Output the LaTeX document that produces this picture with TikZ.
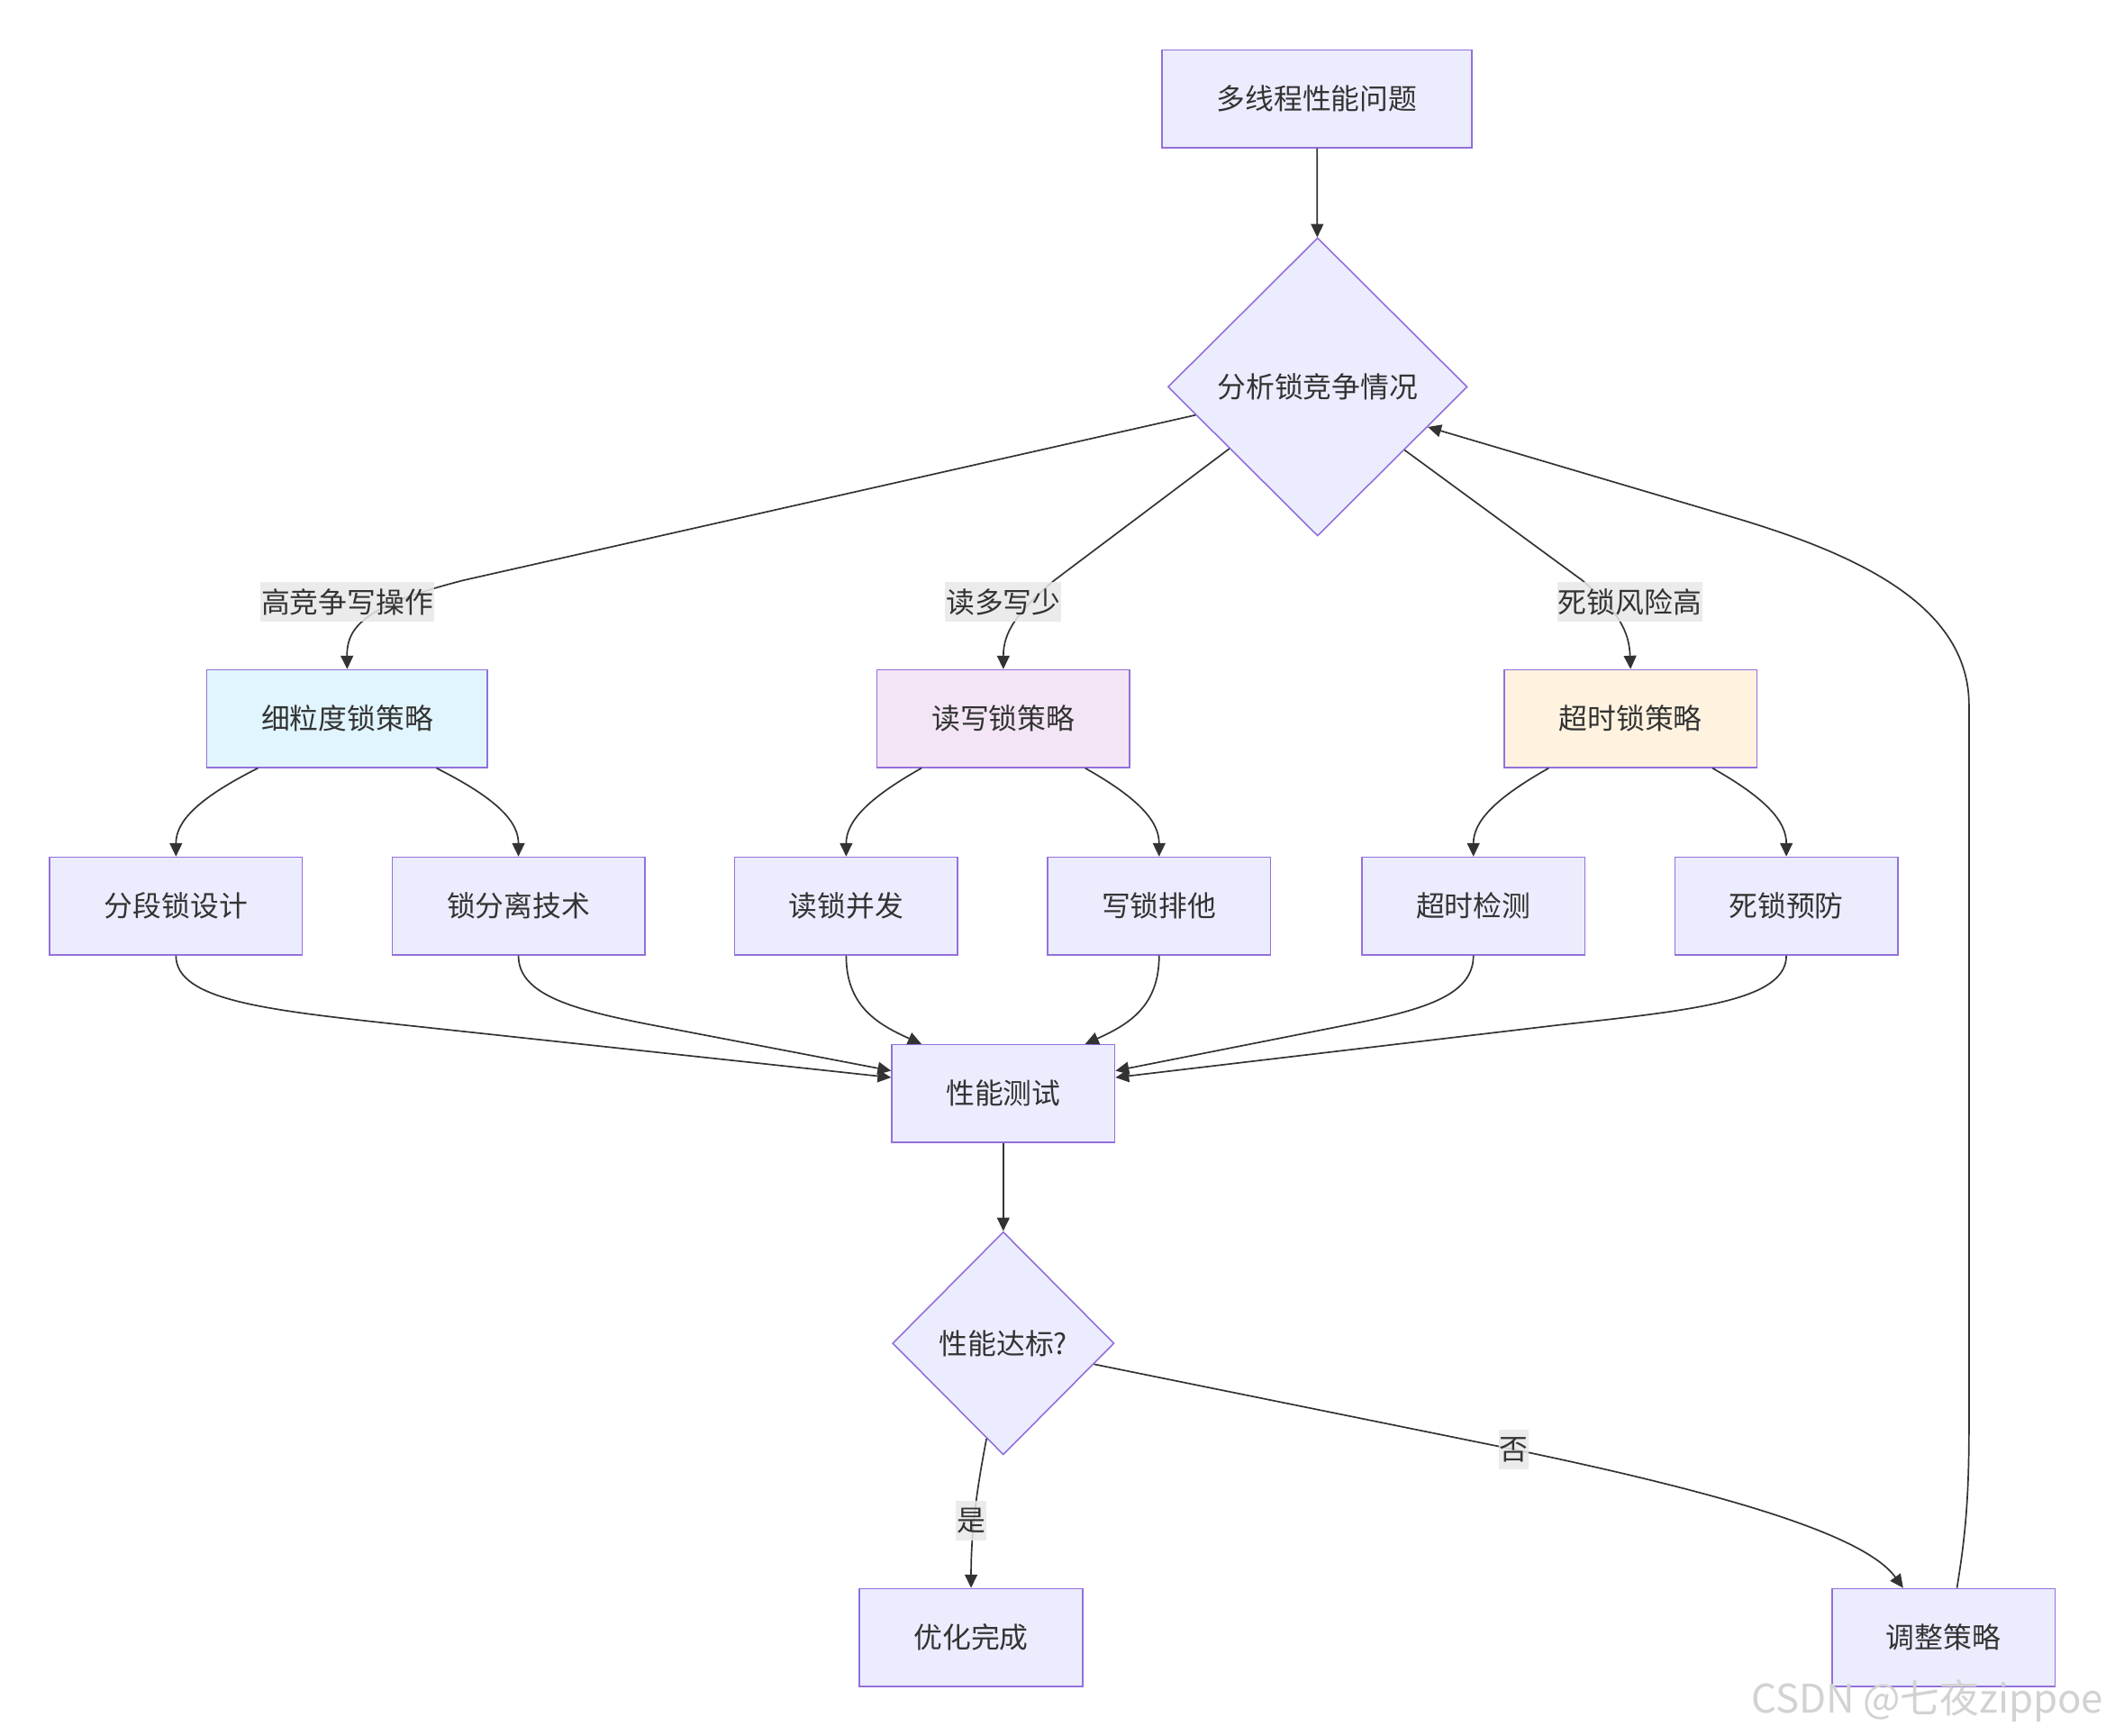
\documentclass[tikz,border=0pt]{standalone}
\usepackage{fontspec}
\setmainfont{Noto Sans CJK SC}
\usetikzlibrary{shapes.geometric,arrows.meta,calc}
\definecolor{nodefill}{HTML}{ECECFF}
\definecolor{nodeline}{HTML}{9370DB}
\definecolor{txt}{HTML}{333333}
\definecolor{lblbg}{HTML}{E8E8E8}
\definecolor{fblue}{HTML}{E1F5FE}
\definecolor{fpurple}{HTML}{F3E5F5}
\definecolor{forange}{HTML}{FFF3E0}
\definecolor{wm}{HTML}{D2D2D2}
\begin{document}
\begin{tikzpicture}[x=0.75pt,y=-0.75pt,
  font=\fontsize{16pt}{19pt}\selectfont,
  box/.style={draw=nodeline, fill=nodefill, line width=0.8pt, text=txt, minimum height=54.5pt, inner sep=0pt},
  dia/.style={diamond, draw=nodeline, fill=nodefill, line width=0.8pt, text=txt, inner sep=0pt},
  lbl/.style={fill=lblbg, fill opacity=0.85, text opacity=1, text=txt, inner xsep=0.5pt, inner ysep=0pt, minimum height=22.5pt},
  conn/.style={draw=txt, line width=0.85pt, -{Triangle[length=7.5pt,width=7pt]}}
]
\fill[white] (0,0) rectangle (1568,1292);
\useasboundingbox (0,0) rectangle (1568,1292);

% nodes
\node[box, minimum width=173.25pt] (A) at (980.5,73.5) {多线程性能问题};
\node[dia, minimum width=167.25pt, minimum height=166.5pt] (B) at (981,288) {分析锁竞争情况};
\node[box, fill=fblue, minimum width=156.75pt] (C) at (258.5,535) {细粒度锁策略};
\node[box, fill=fpurple, minimum width=141pt] (D) at (747,535) {读写锁策略};
\node[box, fill=forange, minimum width=141pt] (E) at (1214,535) {超时锁策略};
\node[box, minimum width=141pt] (C1) at (131,674.5) {分段锁设计};
\node[box, minimum width=141pt] (C2) at (386,674.5) {锁分离技术};
\node[box, minimum width=124.5pt] (D1) at (630,674.5) {读锁并发};
\node[box, minimum width=124.5pt] (D2) at (863,674.5) {写锁排他};
\node[box, minimum width=124.5pt] (E1) at (1097,674.5) {超时检测};
\node[box, minimum width=124.5pt] (E2) at (1330,674.5) {死锁预防};
\node[box, minimum width=124.5pt] (F) at (747,814) {性能测试};
\node[dia, minimum width=123.75pt, minimum height=124.5pt] (G) at (747,1000) {性能达标?};
\node[box, minimum width=124.5pt] (H) at (723,1219) {优化完成};
\node[box, minimum width=124.5pt] (I) at (1447,1219) {调整策略};

% edges
\draw[conn] (A) -- (B);
\draw[conn] (B.193) -- (345,432) .. controls (275,450) and (258,465) .. (C.north);
\draw[conn] (B.215.5) -- (785,432) .. controls (758,455) and (747,470) .. (D.north);
\draw[conn] (B.324.5) -- (1178,432) .. controls (1205,455) and (1213,470) .. (E.north);

\draw[conn] ($(C.south)+(-66.5,0)$) .. controls (146,595) and (131,612) .. (C1.north);
\draw[conn] ($(C.south)+(66.5,0)$) .. controls (371,595) and (386,612) .. (C2.north);
\draw[conn] ($(D.south)+(-61,0)$) .. controls (645,595) and (630,612) .. (D1.north);
\draw[conn] ($(D.south)+(61,0)$) .. controls (849,595) and (863,612) .. (D2.north);
\draw[conn] ($(E.south)+(-61,0)$) .. controls (1112,595) and (1097,612) .. (E1.north);
\draw[conn] ($(E.south)+(61,0)$) .. controls (1316,595) and (1330,612) .. (E2.north);

\draw[conn] (C1.south) .. controls (131,745) and (200,752) .. (300,763) -- ($(F.north west)+(0,25)$);
\draw[conn] (C2.south) .. controls (386,740) and (425,751) .. (480,762) -- ($(F.north west)+(0,20)$);
\draw[conn] (D1.south) .. controls (630,748) and (652,762) .. ($(F.north)+(-61,0)$);
\draw[conn] (D2.south) .. controls (863,748) and (842,762) .. ($(F.north)+(61,0)$);
\draw[conn] (E1.south) .. controls (1097,740) and (1063,751) .. (1008,762) -- ($(F.north east)+(0,20)$);
\draw[conn] (E2.south) .. controls (1330,745) and (1261,752) .. (1161,763) -- ($(F.north east)+(0,25)$);

\draw[conn] (F) -- (G);
\draw[conn] (G.260) .. controls (727,1110) and (723,1140) .. (H.north);
\draw[conn] (G.347) -- (1127,1079) .. controls (1300,1115) and (1390,1145) .. ($(I.north)+(-30,0)$);
\draw[conn] ($(I.north)+(10,0)$) .. controls (1464,1140) and (1466,1110) .. (1466,1060) -- (1466,525) .. controls (1466,450) and (1381,412) .. (1290,385) -- (B.340);

% edge labels
\node[lbl] (L1) at (258.5,448) {高竞争写操作};
\node[lbl] (L2) at (747,448) {读多写少};
\node[lbl] (L3) at (1213.5,448) {死锁风险高};
\node[lbl] (L4) at (723,1132) {是};
\node[lbl] (L5) at (1127,1079) {否};

% watermark
\node[text=wm, font=\fontsize{22pt}{26pt}\selectfont, inner sep=0pt] (WM) at (1435,1266) {CSDN @七夜zippoe};
\end{tikzpicture}
\end{document}
